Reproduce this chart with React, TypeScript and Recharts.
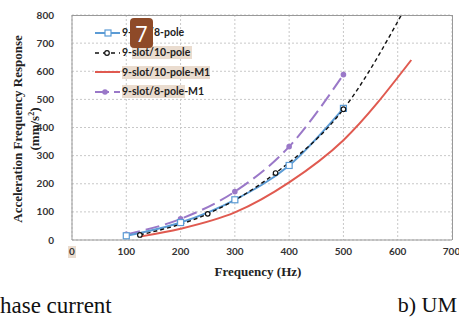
import { LineChart, Line, XAxis, YAxis, CartesianGrid } from "recharts"

// frequencies (Hz) and responses (mm/s^2)
const freq8 = [100, 200, 300, 400, 500]
const resp8 = [15, 62, 143, 265, 468]

const freq10 = [125, 250, 375, 500, 625]
const resp10 = [18, 93, 238, 465, 865]

const freq10M1 = [125, 200, 300, 400, 500, 625]
const resp10M1 = [12, 40, 98, 205, 355, 640]

const freq8M1 = [100, 200, 300, 400, 500]
const resp8M1 = [20, 75, 172, 332, 588]

const xTicks = [0, 100, 200, 300, 400, 500, 600, 700]
const yTicks = [0, 100, 200, 300, 400, 500, 600, 700, 800]

const seriesNames = ["9-slot/8-pole", "9-slot/10-pole", "9-slot/10-pole-M1", "9-slot/8-pole-M1"]

const toRows = (f: number[], v: number[]) => f.map((x, i) => ({ f: x, v: v[i] }))

const BLUE = "#5b9bd5"
const BLACK = "#111111"
const RED = "#e05a50"
const PURPLE = "#9a78c8"
const HILITE = "#eadccf"

const tickFont = { fontFamily: "Lato, 'Open Sans', sans-serif", fontSize: 10, fontWeight: 700, fill: "#333" }

const Square = (props: any) => {
  const { cx, cy } = props
  if (cx == null || cy == null) return null
  return <rect x={cx - 3} y={cy - 3} width={6} height={6} fill="#fff" stroke={BLUE} strokeWidth={1.2} />
}

const Ring = (props: any) => {
  const { cx, cy } = props
  if (cx == null || cy == null) return null
  return <circle cx={cx} cy={cy} r={2.3} fill="#fff" stroke={BLACK} strokeWidth={1.2} />
}

const Dot = (props: any) => {
  const { cx, cy } = props
  if (cx == null || cy == null) return null
  return <circle cx={cx} cy={cy} r={2.8} fill={PURPLE} stroke="none" />
}

const legendIcons = [
  <svg width={26} height={10} key="a">
    <line x1={0} y1={5} x2={25} y2={5} stroke={BLUE} strokeWidth={2} />
    <rect x={10} y={2} width={6} height={6} fill="#fff" stroke={BLUE} strokeWidth={1.2} />
  </svg>,
  <svg width={26} height={10} key="b">
    <line x1={0} y1={5} x2={25} y2={5} stroke={BLACK} strokeWidth={1.3} strokeDasharray="4 4" />
    <circle cx={12} cy={5} r={2.3} fill="#fff" stroke={BLACK} strokeWidth={1.2} />
  </svg>,
  <svg width={26} height={10} key="c">
    <line x1={0} y1={5} x2={25} y2={5} stroke={RED} strokeWidth={2} />
  </svg>,
  <svg width={26} height={10} key="d">
    <line x1={0} y1={5} x2={25} y2={5} stroke={PURPLE} strokeWidth={2} strokeDasharray="14 5" />
    <circle cx={10} cy={5} r={2.8} fill={PURPLE} />
  </svg>,
]

// tan highlight boxes behind parts of the legend text (left offset, width)
const legendHighlights = [null, [10, 60], [0, 88], [0, 63]]

export default function App() {
  return (
    <div style={{ position: "absolute", left: 0, top: 0, width: 459, height: 322, background: "#fff", overflow: "hidden" }}>
      {/* highlight behind the 0 tick */}
      <div style={{ position: "absolute", left: 68, top: 246, width: 8, height: 12, background: HILITE }} />
      <LineChart width={459} height={322} margin={{ top: 15, right: 7, left: 0, bottom: 0 }}>
        <CartesianGrid stroke="#c8c8c8" strokeDasharray="2 2" />
        <XAxis
          type="number"
          dataKey="f"
          domain={[0, 700]}
          ticks={xTicks}
          tickLine={false}
          tickMargin={2}
          height={82}
          stroke="#999"
          tick={tickFont}
          allowDataOverflow
        />
        <YAxis
          type="number"
          dataKey="v"
          domain={[0, 800]}
          ticks={yTicks}
          tickLine={false}
          tickMargin={12}
          width={72}
          stroke="#999"
          tick={tickFont}
          allowDataOverflow
        />
        <Line
          data={toRows(freq10M1, resp10M1)}
          dataKey="v"
          name={seriesNames[2]}
          type="monotone"
          stroke={RED}
          strokeWidth={2}
          dot={false}
          isAnimationActive={false}
        />
        <Line
          data={toRows(freq8M1, resp8M1)}
          dataKey="v"
          name={seriesNames[3]}
          type="monotone"
          stroke={PURPLE}
          strokeWidth={2}
          strokeDasharray="14 6"
          dot={<Dot />}
          isAnimationActive={false}
        />
        <Line
          data={toRows(freq8, resp8)}
          dataKey="v"
          name={seriesNames[0]}
          type="monotone"
          stroke={BLUE}
          strokeWidth={2}
          dot={<Square />}
          isAnimationActive={false}
        />
        <Line
          data={toRows(freq10, resp10)}
          dataKey="v"
          name={seriesNames[1]}
          type="monotone"
          stroke={BLACK}
          strokeWidth={1.4}
          strokeDasharray="4 3"
          dot={<Ring />}
          isAnimationActive={false}
        />
      </LineChart>
      {/* frame on top/right of plot */}
      <div style={{ position: "absolute", left: 72, top: 15, width: 381, height: 225, border: "1px solid #999", borderLeft: "none", borderBottom: "none", boxSizing: "border-box", pointerEvents: "none" }} />
      {/* legend */}
      <div style={{ position: "absolute", left: 95, top: 23 }}>
        {seriesNames.map((n, i) => {
          const hl = legendHighlights[i]
          return (
            <div key={n} style={{ display: "flex", alignItems: "center", height: 19.7 }}>
              {legendIcons[i]}
              <span
                style={{
                  position: "relative",
                  marginLeft: 1,
                  fontFamily: "Lato, 'Open Sans', sans-serif",
                  fontSize: 10.5,
                  fontWeight: 700,
                  color: "#222",
                  lineHeight: "13px",
                }}
              >
                {hl && (
                  <span style={{ position: "absolute", left: hl[0], top: 0, width: hl[1], height: 13, background: HILITE }} />
                )}
                <span style={{ position: "relative" }}>{n}</span>
              </span>
            </div>
          )
        })}
      </div>
      {/* badge */}
      <div
        style={{
          position: "absolute",
          left: 130,
          top: 18,
          width: 23,
          height: 30,
          borderRadius: 4,
          background: "#8e4a28",
          color: "#fff",
          fontFamily: "'Open Sans', sans-serif",
          fontSize: 22,
          lineHeight: "30px",
          textAlign: "center",
        }}
      >
        7
      </div>
      {/* y axis title */}
      <div
        style={{
          position: "absolute",
          left: 26,
          top: 129,
          transform: "translate(-50%, -50%) rotate(-90deg)",
          whiteSpace: "nowrap",
          fontFamily: "'Liberation Serif', serif",
          fontWeight: 700,
          fontSize: 13,
          color: "#222",
          textAlign: "center",
          lineHeight: "17px",
        }}
      >
        Acceleration Frequency Response
        <br />
        (mm/s<sup style={{ fontSize: 8, lineHeight: 0 }}>2</sup>)
      </div>
      {/* x axis title */}
      <div
        style={{
          position: "absolute",
          left: 258,
          top: 264,
          transform: "translateX(-50%)",
          whiteSpace: "nowrap",
          fontFamily: "'Liberation Serif', serif",
          fontWeight: 700,
          fontSize: 13,
          color: "#222",
        }}
      >
        Frequency (Hz)
      </div>
      {/* surrounding page captions */}
      <div style={{ position: "absolute", left: 0, top: 294, fontFamily: "'Liberation Serif', serif", fontSize: 23, lineHeight: 1, color: "#111", whiteSpace: "nowrap" }}>
        hase current
      </div>
      <div style={{ position: "absolute", right: 2, top: 294, fontFamily: "'Liberation Serif', serif", fontSize: 22, lineHeight: 1, color: "#111", whiteSpace: "nowrap" }}>
        b) UM
      </div>
    </div>
  )
}
